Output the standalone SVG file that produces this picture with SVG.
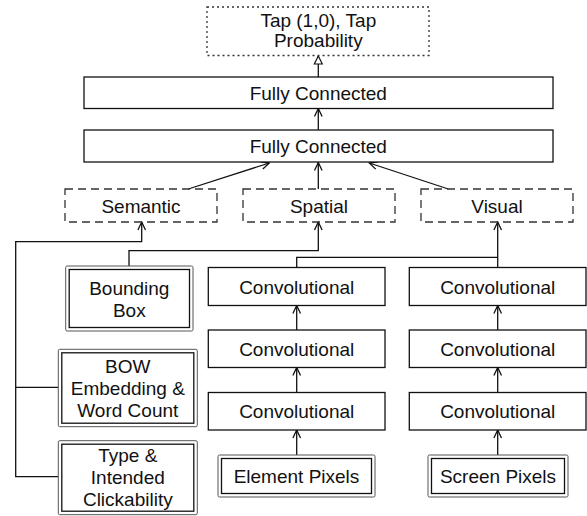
<svg xmlns="http://www.w3.org/2000/svg" width="587" height="516" viewBox="0 0 587 516">
<defs>
<style>
text{font-family:"Liberation Sans",Arial,Helvetica,sans-serif;font-size:19px;fill:#111;text-anchor:middle}
.box{fill:#fff;stroke:#111;stroke-width:1.3}
.dash{fill:none;stroke:#333;stroke-width:1.3;stroke-dasharray:8 5}
.dot{fill:none;stroke:#333;stroke-width:1.3;stroke-dasharray:2 3}
.outer{fill:#fff;stroke:#555;stroke-width:1}
.inner{fill:none;stroke:#111;stroke-width:1.3}
.con{fill:none;stroke:#111;stroke-width:1.3}
</style>
<marker id="v" viewBox="0 0 10 10" refX="9" refY="5" markerWidth="10" markerHeight="10" markerUnits="userSpaceOnUse" orient="auto">
<path d="M1,1.2 L9,5 L1,8.8" fill="none" stroke="#111" stroke-width="1.3"/>
</marker>
<marker id="tri" viewBox="0 0 10 10" refX="9" refY="5" markerWidth="10" markerHeight="10" markerUnits="userSpaceOnUse" orient="auto">
<path d="M1,1 L9,5 L1,9 Z" fill="#fff" stroke="#111" stroke-width="1.2"/>
</marker>
</defs>

<g id="connectors">
<line class="con" x1="318.3" y1="77" x2="318.3" y2="56" marker-end="url(#tri)"/>
<line class="con" x1="318.3" y1="130" x2="318.3" y2="108.5" marker-end="url(#v)"/>
<line class="con" x1="318.3" y1="189" x2="318.3" y2="162.5" marker-end="url(#v)"/>
<line class="con" x1="188.3" y1="189" x2="269.3" y2="163" marker-end="url(#v)"/>
<line class="con" x1="448.3" y1="189" x2="369.3" y2="163" marker-end="url(#v)"/>
<polyline class="con" points="58,476.7 15.7,476.7 15.7,241.7 141.7,241.7 141.7,222" marker-end="url(#v)"/>
<line class="con" x1="15.7" y1="387.3" x2="58" y2="387.3"/>
<polyline class="con" points="129,266 129,250.7 318.3,250.7 318.3,222" marker-end="url(#v)"/>
<polyline class="con" points="296.7,267.5 296.7,257.3 497.7,257.3"/>
<line class="con" x1="497.7" y1="267.5" x2="497.7" y2="222" marker-end="url(#v)"/>
<line class="con" x1="296.7" y1="330" x2="296.7" y2="305.5" marker-end="url(#v)"/>
<line class="con" x1="296.7" y1="392.5" x2="296.7" y2="367.5" marker-end="url(#v)"/>
<line class="con" x1="296.7" y1="455" x2="296.7" y2="430" marker-end="url(#v)"/>
<line class="con" x1="497.7" y1="330" x2="497.7" y2="305.5" marker-end="url(#v)"/>
<line class="con" x1="497.7" y1="392.5" x2="497.7" y2="367.5" marker-end="url(#v)"/>
<line class="con" x1="497.7" y1="455" x2="497.7" y2="430" marker-end="url(#v)"/>
</g>

<g id="output">
<rect class="dot" x="207" y="7" width="222" height="48.5"/>
<text x="318.3" y="27">Tap (1,0), Tap</text>
<text x="318.3" y="47">Probability</text>
</g>

<g id="fc1">
<rect class="box" x="84" y="77" width="469" height="31.5"/>
<text x="318.3" y="100">Fully Connected</text>
</g>
<g id="fc2">
<rect class="box" x="84" y="130" width="469" height="32"/>
<text x="318.3" y="153">Fully Connected</text>
</g>

<g id="semantic">
<rect class="dash" x="65" y="189" width="152" height="33"/>
<text x="141" y="212.5">Semantic</text>
</g>
<g id="spatial">
<rect class="dash" x="243" y="189" width="152" height="33"/>
<text x="319" y="212.5">Spatial</text>
</g>
<g id="visual">
<rect class="dash" x="421" y="189" width="152" height="33"/>
<text x="497" y="212.5">Visual</text>
</g>

<g id="conv-l1">
<rect class="box" x="208.3" y="267.5" width="176.7" height="38"/>
<text x="296.7" y="293.5">Convolutional</text>
</g>
<g id="conv-l2">
<rect class="box" x="208.3" y="330" width="176.7" height="37.5"/>
<text x="296.7" y="355.5">Convolutional</text>
</g>
<g id="conv-l3">
<rect class="box" x="208.3" y="392.5" width="176.7" height="37.5"/>
<text x="296.7" y="418">Convolutional</text>
</g>
<g id="conv-r1">
<rect class="box" x="409.3" y="267.5" width="176.7" height="38"/>
<text x="497.7" y="293.5">Convolutional</text>
</g>
<g id="conv-r2">
<rect class="box" x="409.3" y="330" width="176.7" height="37.5"/>
<text x="497.7" y="355.5">Convolutional</text>
</g>
<g id="conv-r3">
<rect class="box" x="409.3" y="392.5" width="176.7" height="37.5"/>
<text x="497.7" y="418">Convolutional</text>
</g>

<g id="element-pixels">
<rect class="outer" x="218" y="455" width="157" height="42" rx="1.5"/>
<rect class="inner" x="221.5" y="458.5" width="150" height="35"/>
<text x="296.5" y="483">Element Pixels</text>
</g>
<g id="screen-pixels">
<rect class="outer" x="428" y="455" width="140" height="42" rx="1.5"/>
<rect class="inner" x="431.5" y="458.5" width="133" height="35"/>
<text x="498" y="483">Screen Pixels</text>
</g>

<g id="bounding-box">
<rect class="outer" x="65.7" y="266" width="127.3" height="65" rx="1.5"/>
<rect class="inner" x="69.2" y="269.5" width="120.3" height="58"/>
<text x="129.3" y="295">Bounding</text>
<text x="129.3" y="316.5">Box</text>
</g>
<g id="bow">
<rect class="outer" x="58.3" y="349.3" width="139" height="77.4" rx="1.5"/>
<rect class="inner" x="61.8" y="352.8" width="132" height="70.4"/>
<text x="127.8" y="373">BOW</text>
<text x="127.8" y="395">Embedding &amp;</text>
<text x="127.8" y="416.5">Word Count</text>
</g>
<g id="type">
<rect class="outer" x="58.3" y="440.7" width="139" height="74" rx="1.5"/>
<rect class="inner" x="61.8" y="444.2" width="132" height="67"/>
<text x="127.8" y="462">Type &amp;</text>
<text x="127.8" y="484">Intended</text>
<text x="127.8" y="506">Clickability</text>
</g>
</svg>
